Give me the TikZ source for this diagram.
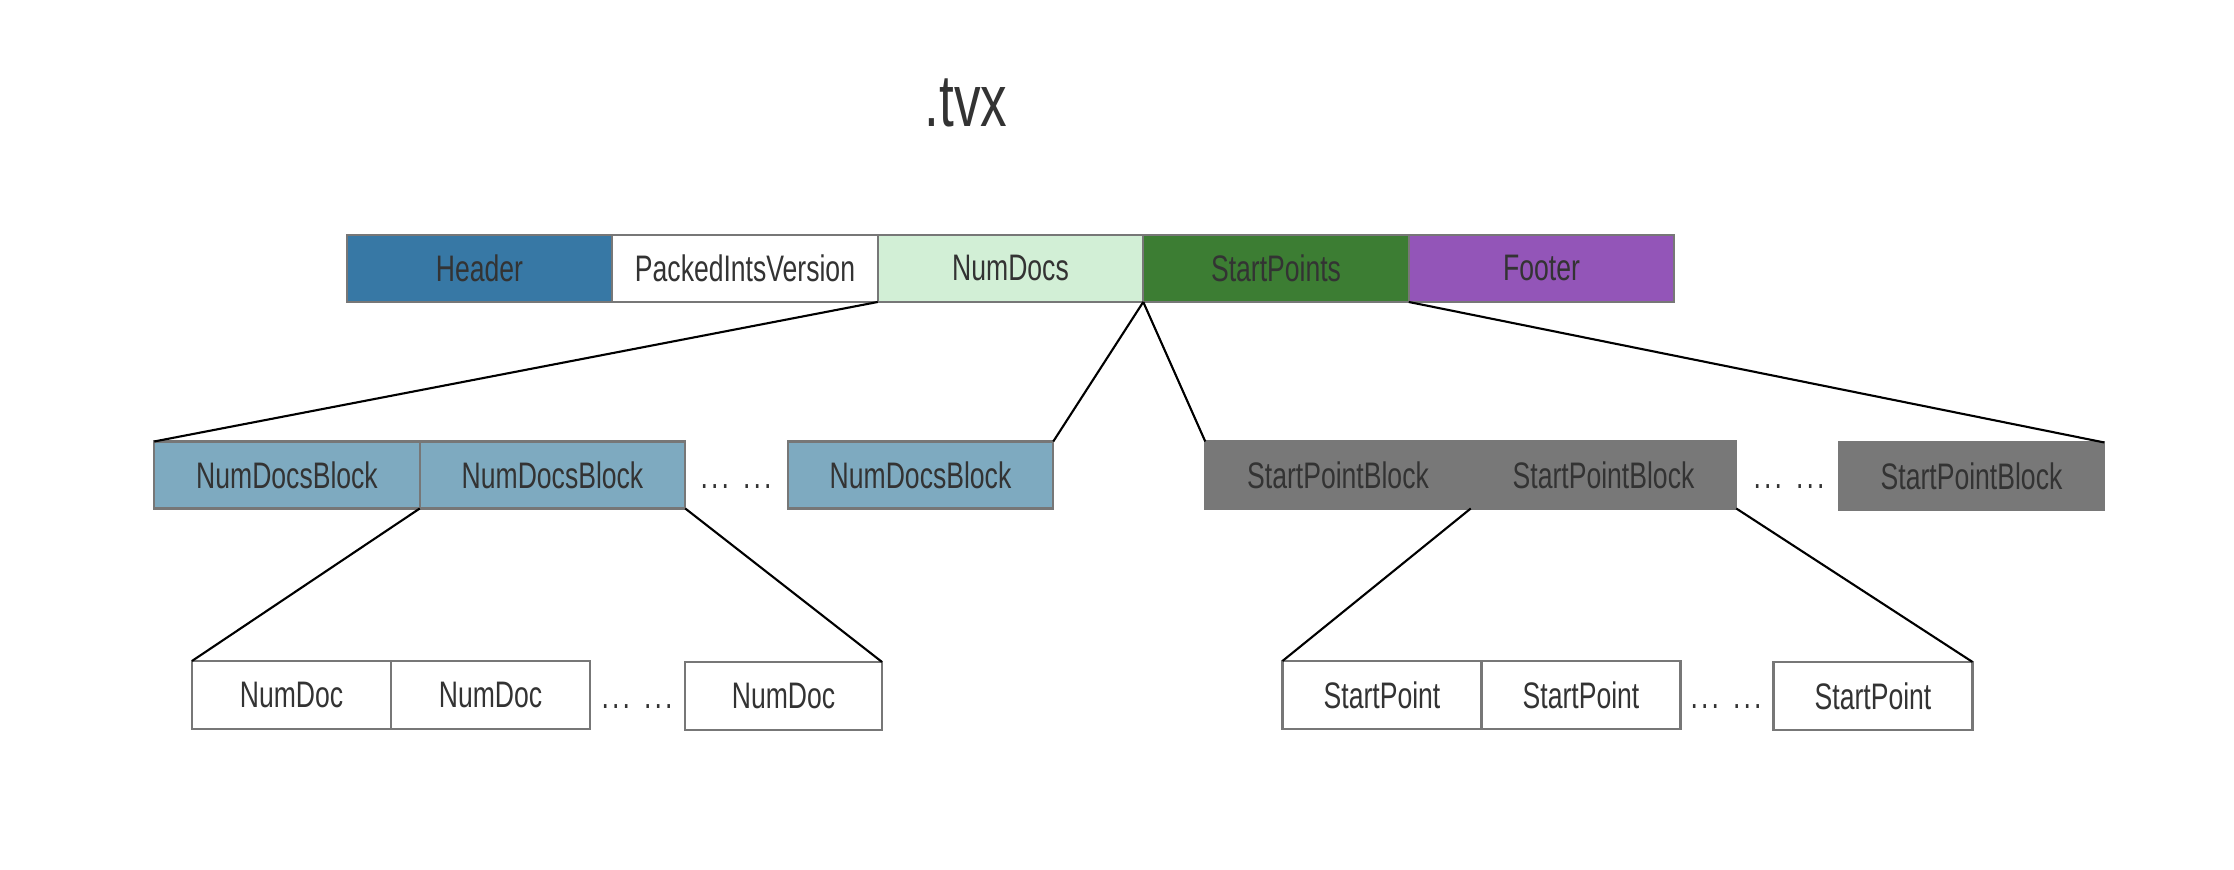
\documentclass[tikz,border=0pt]{standalone}
\usepackage{fontspec}
\usepackage{tikz}
\usetikzlibrary{positioning}
\newfontfamily\boxfont{Liberation Sans}[FakeStretch=0.72]
\newcommand{\ellip}{.\kern0.9pt.\kern0.9pt.}
\definecolor{headercolor}{RGB}{55, 120, 165}
\definecolor{numdocscolor}{RGB}{210, 239, 214}
\definecolor{startcolor}{RGB}{60, 125, 51}
\definecolor{footercolor}{RGB}{147, 85, 184}
\definecolor{ndblockcolor}{RGB}{126, 170, 192}
\definecolor{spblockcolor}{RGB}{120, 120, 120}
\definecolor{bordercolor}{RGB}{119, 119, 119}
\definecolor{textcolor}{RGB}{51, 51, 51}

\begin{document}
\begin{tikzpicture}[
    box/.style={rectangle, draw=bordercolor, line width=0.6pt, inner sep=0pt, outer sep=0pt,
        minimum width=2.655cm, minimum height=0.67cm, text=textcolor,
        font=\boxfont\fontsize{10.5}{12}\selectfont},
    field/.style={box, fill=#1},
    ndblock/.style={box, fill=ndblockcolor},
    spblock/.style={box, fill=spblockcolor, draw=spblockcolor},
    item/.style={box, fill=white, minimum width=1.99cm, minimum height=0.68cm},
    dots/.style={text=textcolor, text height=7.5pt, text depth=0pt,
        font=\boxfont\fontsize{10.5}{12}\selectfont},
    link/.style={black, line width=0.6pt}
]
\useasboundingbox (0, 0) rectangle (22.34, 8.70);

% Title
\node[text=textcolor, font=\boxfont\fontsize{21}{25}\selectfont] (title) at (9.66, 7.67) {.tvx};

% File layout
\node[field=headercolor] (header) at (4.795, 6.015) {Header};
\node[field=white] (packed) at (7.45, 6.015) {PackedIntsVersion};
\node[field=numdocscolor] (numdocs) at (10.105, 6.015) {NumDocs};
\node[field=startcolor] (startpoints) at (12.76, 6.015) {StartPoints};
\node[field=footercolor] (footer) at (15.415, 6.015) {Footer};

% NumDocs blocks
\node[ndblock] (ndb1) at (2.87, 3.95) {NumDocsBlock};
\node[ndblock] (ndb2) at (5.525, 3.95) {NumDocsBlock};
\node[dots] (ndbdots) at (7.36, 3.95) {\ellip\kern4pt\ellip};
\node[ndblock] (ndb3) at (9.205, 3.95) {NumDocsBlock};

% StartPoint blocks
\node[spblock] (spb1) at (13.38, 3.95) {StartPointBlock};
\node[spblock] (spb2) at (16.035, 3.95) {StartPointBlock};
\node[dots] (spbdots) at (17.89, 3.95) {\ellip\kern4pt\ellip};
\node[spblock] (spb3) at (19.715, 3.94) {StartPointBlock};

% NumDoc items
\node[item] (nd1) at (2.915, 1.75) {NumDoc};
\node[item] (nd2) at (4.905, 1.75) {NumDoc};
\node[dots] (nddots) at (6.37, 1.75) {\ellip\kern4pt\ellip};
\node[item, minimum width=1.97cm] (nd3) at (7.835, 1.74) {NumDoc};

% StartPoint items
\node[item] (sp1) at (13.82, 1.75) {StartPoint};
\node[item] (sp2) at (15.81, 1.75) {StartPoint};
\node[dots] (spdots) at (17.26, 1.75) {\ellip\kern4pt\ellip};
\node[item] (sp3) at (18.73, 1.74) {StartPoint};

% Links
\draw[link] (numdocs.south west) -- (ndb1.north west);
\draw[link] (numdocs.south east) -- (ndb3.north east);
\draw[link] (numdocs.south east) -- (spb1.north west);
\draw[link] (footer.south west) -- (spb3.north east);
\draw[link] (ndb2.south west) -- (nd1.north west);
\draw[link] (ndb2.south east) -- (nd3.north east);
\draw[link] (spb2.south west) -- (sp1.north west);
\draw[link] (spb2.south east) -- (sp3.north east);

\end{tikzpicture}
\end{document}
